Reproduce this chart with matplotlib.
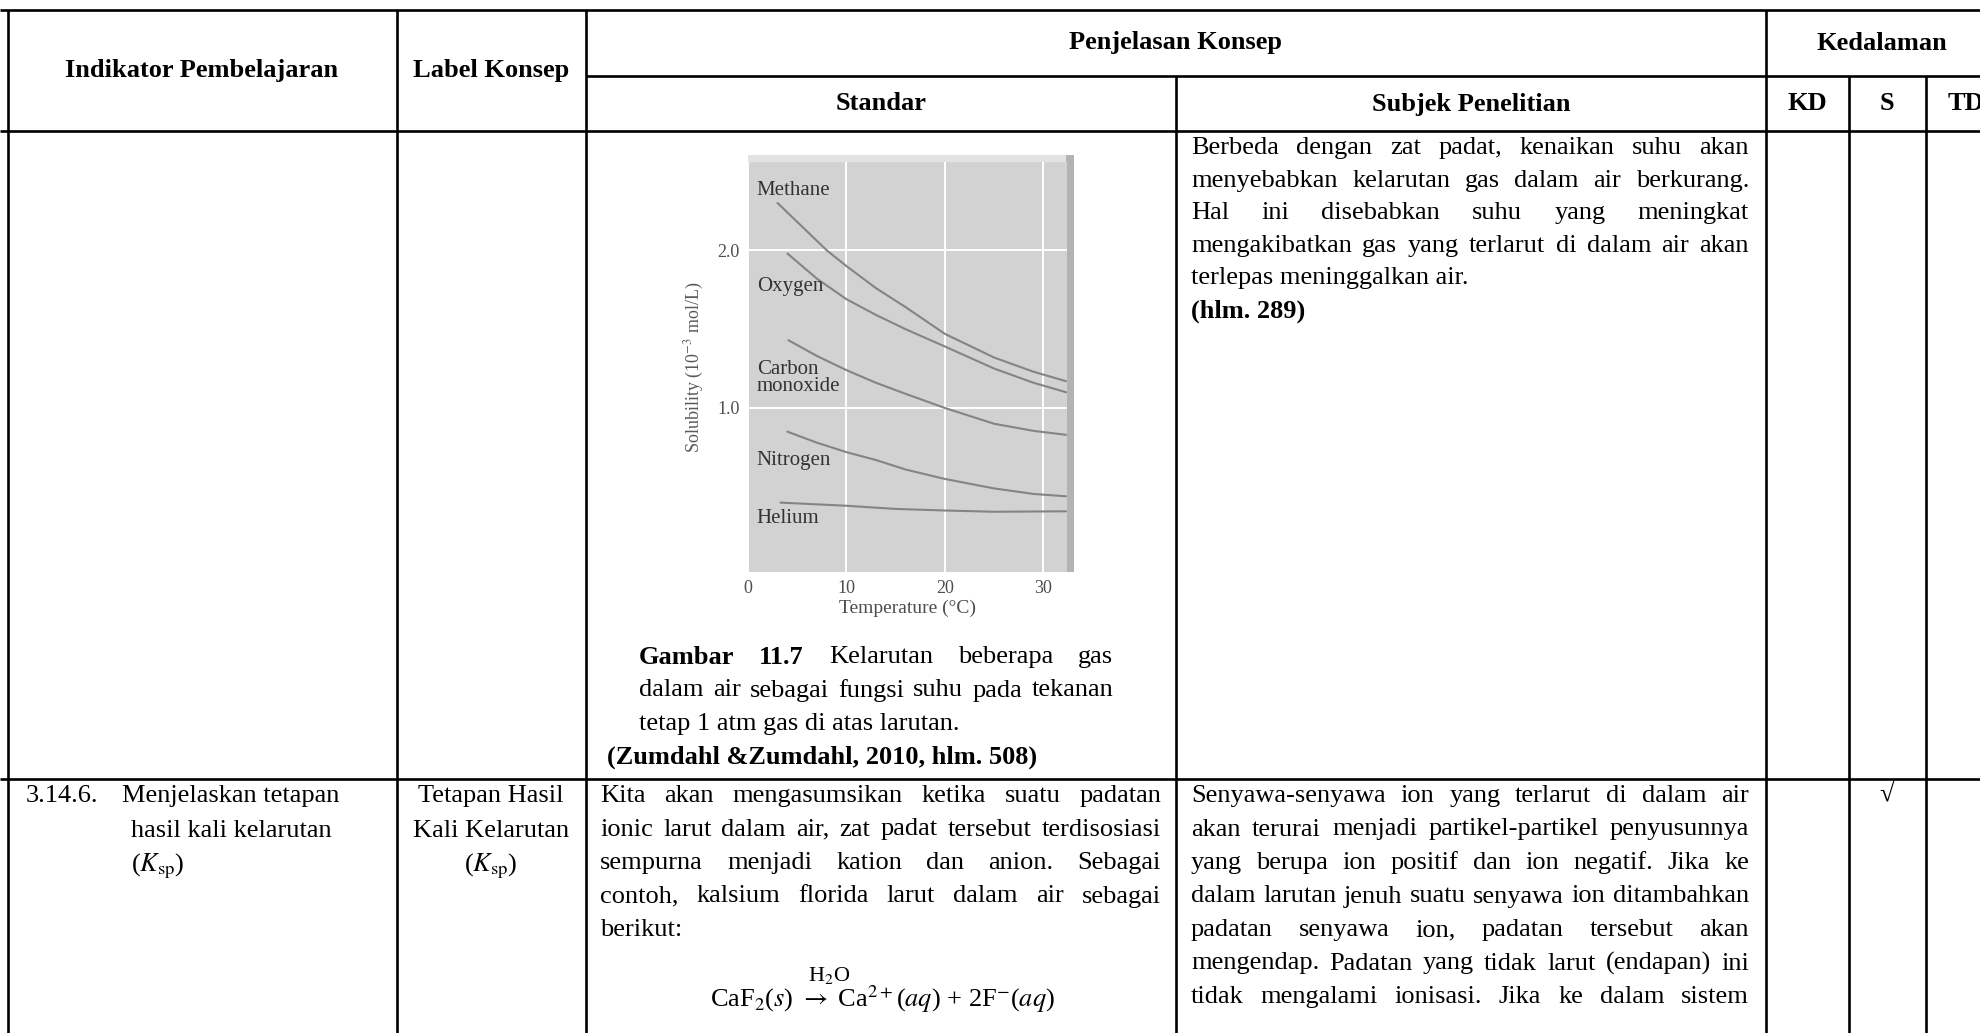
import matplotlib
matplotlib.use('Agg')
import matplotlib.pyplot as plt
from matplotlib.patches import Rectangle

plt.rcParams['font.family'] = ['Liberation Serif', 'DejaVu Serif']
plt.rcParams['mathtext.fontset'] = 'stix'

# ---- data for the embedded solubility chart ----
temp_methane = [3.0, 6, 8, 10, 13, 16, 20, 25, 29, 32.3]
sol_methane = [2.30, 2.12, 2.00, 1.90, 1.76, 1.64, 1.47, 1.32, 1.23, 1.17]
temp_oxygen = [4.0, 7, 10, 13, 16, 20, 25, 29, 32.3]
sol_oxygen = [1.98, 1.82, 1.69, 1.59, 1.50, 1.39, 1.25, 1.16, 1.10]
temp_co = [4.1, 7, 10, 13, 16, 20, 25, 29, 32.3]
sol_co = [1.43, 1.33, 1.24, 1.16, 1.09, 1.00, 0.90, 0.855, 0.83]
temp_nitrogen = [4.0, 7, 10, 13, 16, 20, 25, 29, 32.3]
sol_nitrogen = [0.85, 0.78, 0.72, 0.67, 0.61, 0.55, 0.49, 0.455, 0.44]
temp_helium = [3.3, 10, 15, 20, 25, 32.3]
sol_helium = [0.40, 0.38, 0.36, 0.35, 0.342, 0.345]
gas_names = ['Methane', 'Oxygen', 'Carbon\nmonoxide', 'Nitrogen', 'Helium']
xticks = [0, 10, 20, 30]
yticks = [1.0, 2.0]

# ---- table text ----
head_top = ['Indikator Pembelajaran', 'Label Konsep', 'Penjelasan Konsep', 'Kedalaman']
head_sub = ['Standar', 'Subjek Penelitian', 'KD', 'S', 'TD']

subjek_1 = ['Berbeda dengan zat padat, kenaikan suhu akan',
            'menyebabkan kelarutan gas dalam air berkurang.',
            'Hal ini disebabkan suhu yang meningkat',
            'mengakibatkan gas yang terlarut di dalam air akan',
            'terlepas meninggalkan air.']
caption = ['Gambar 11.7 Kelarutan beberapa gas',
           'dalam air sebagai fungsi suhu pada tekanan',
           'tetap 1 atm gas di atas larutan.']
source = '(Zumdahl &Zumdahl, 2010, hlm. 508)'
standar_2 = ['Kita akan mengasumsikan ketika suatu padatan',
             'ionic larut dalam air, zat padat tersebut terdisosiasi',
             'sempurna menjadi kation dan anion. Sebagai',
             'contoh, kalsium florida larut dalam air sebagai',
             'berikut:']
subjek_2 = ['Senyawa-senyawa ion yang terlarut di dalam air',
            'akan terurai menjadi partikel-partikel penyusunnya',
            'yang berupa ion positif dan ion negatif. Jika ke',
            'dalam larutan jenuh suatu senyawa ion ditambahkan',
            'padatan senyawa ion, padatan tersebut akan',
            'mengendap. Padatan yang tidak larut (endapan) ini',
            'tidak mengalami ionisasi. Jika ke dalam sistem']
indikator_2 = ['Menjelaskan tetapan', 'hasil kali kelarutan', r'($K_{\mathrm{sp}}$)']
label_2 = ['Tetapan Hasil', 'Kali Kelarutan', r'($K_{\mathrm{sp}}$)']

W, H = 1981, 1033
FS = 19
fig = plt.figure(figsize=(W / 100, H / 100), dpi=100)
page = fig.add_axes([0, 0, 1, 1])
page.set_xlim(0, W)
page.set_ylim(H, 0)
page.axis('off')
renderer = fig.canvas.get_renderer()

# grid of the table
cols = [8, 397, 586, 1176, 1766, 1849, 1926, 2010]
y_top, y_mid, y_head, y_row = 10, 76, 131, 779
lw = 1.9
page.hlines([y_top, y_head, y_row], 0, W, color='black', lw=lw)
page.hlines(y_mid, cols[2], W, color='black', lw=lw)
for x in [cols[0], cols[1], cols[2], cols[4]]:
    page.vlines(x, y_top, H, color='black', lw=lw)
for x in [cols[3], cols[5], cols[6]]:
    page.vlines(x, y_mid, H, color='black', lw=lw)

# headers
hb = dict(fontsize=FS, fontweight='bold', ha='center', va='center')
page.text(202, 71, head_top[0], **hb)
page.text(491, 71, head_top[1], **hb)
page.text(1176, 43, head_top[2], **hb)
page.text(1882, 43, head_top[3], **hb)
for x, s in zip([881, 1471, 1807, 1887, 1966], head_sub):
    page.text(x, 104, s, **hb)


def word_width(w, weight):
    t = page.text(0, 0, w, fontsize=FS, fontweight=weight)
    bb = t.get_window_extent(renderer)
    t.remove()
    return bb.width


def put_line(s, x0, x1, y, justify=True, nbold=0, weight='normal'):
    if not justify:
        page.text(x0, y, s, fontsize=FS, fontweight=weight, va='center')
        return
    words = s.split()
    wts = ['bold' if i < nbold else weight for i in range(len(words))]
    widths = [word_width(w, wt) for w, wt in zip(words, wts)]
    gap = (x1 - x0 - sum(widths)) / (len(words) - 1)
    x = x0
    for w, wt, wd in zip(words, wts, widths):
        page.text(x, y, w, fontsize=FS, fontweight=wt, va='center')
        x += wd + gap


step = 33.5
# row 1, subjek
for i, s in enumerate(subjek_1):
    put_line(s, 1191, 1749, 148 + i * 32.6, justify=(i < 4))
put_line('(hlm. 289)', 1191, 1749, 148 + 5 * 32.6, justify=False, weight='bold')

# row 1, caption under the chart
for i, s in enumerate(caption):
    put_line(s, 639, 1113, 657 + i * step, justify=(i < 2), nbold=2 if i == 0 else 0)
put_line(source, 607, 1100, 657 + 3 * step, justify=False, weight='bold')

# row 2
for i, s in enumerate(standar_2):
    put_line(s, 600, 1161, 796 + i * step, justify=(i < 4))
for i, s in enumerate(subjek_2):
    put_line(s, 1191, 1749, 796 + i * step, justify=True)
page.text(26, 796, '3.14.6.', fontsize=FS, va='center')
page.text(122, 796, indikator_2[0], fontsize=FS, va='center')
for i, s in enumerate(indikator_2[1:]):
    page.text(131, 831 + i * 35, s, fontsize=FS, va='center')
for i, s in enumerate(label_2):
    page.text(491, 796 + i * 35, s, fontsize=FS, ha='center', va='center')
page.text(829, 975, r'H$_2$O', fontsize=FS - 3, ha='center', va='center')
page.text(882, 999, r'CaF$_2$($s$) $\rightarrow$ Ca$^{2+}$($aq$) + 2F$^{-}$($aq$)',
          fontsize=FS, ha='center', va='center')
page.text(1887, 794, '√', fontsize=FS, ha='center', va='center')

# chart shadow edges
page.add_patch(Rectangle((748, 155), 326, 7, color='#e2e2e2', lw=0))
page.add_patch(Rectangle((1066, 155), 8, 417, color='#b3b3b3', lw=0))

# embedded chart
ax = fig.add_axes([748 / W, (H - 572) / H, 319 / W, 410 / H])
ax.set_facecolor('#d2d2d2')
for sp in ax.spines.values():
    sp.set_visible(False)
ax.set_xlim(0, 32.4)
ax.set_ylim(-0.04, 2.56)
ax.set_xticks(xticks)
ax.set_yticks(yticks)
ax.set_yticklabels(['%.1f' % v for v in yticks])
ax.grid(color='white', lw=1.4)
ax.set_axisbelow(True)
ax.tick_params(length=0, labelsize=13, labelcolor='#4d4d4d', pad=6)
ax.set_xlabel('Temperature (°C)', fontsize=14, color='#4d4d4d', labelpad=2)
ax.set_ylabel('Solubility (10$^{-3}$ mol/L)', fontsize=13, color='#5a5a5a', labelpad=8)

series = [(temp_methane, sol_methane), (temp_oxygen, sol_oxygen), (temp_co, sol_co),
          (temp_nitrogen, sol_nitrogen), (temp_helium, sol_helium)]
for tx, sy in series:
    ax.plot(tx, sy, color='#848484', lw=1.5, solid_capstyle='round')

label_y = [2.38, 1.77, 1.19, 0.67, 0.30]
for name, ly in zip(gas_names, label_y):
    ax.text(0.9, ly, name, fontsize=15, color='#333333', va='center', linespacing=0.8)

fig.savefig('out.png', dpi=100)
